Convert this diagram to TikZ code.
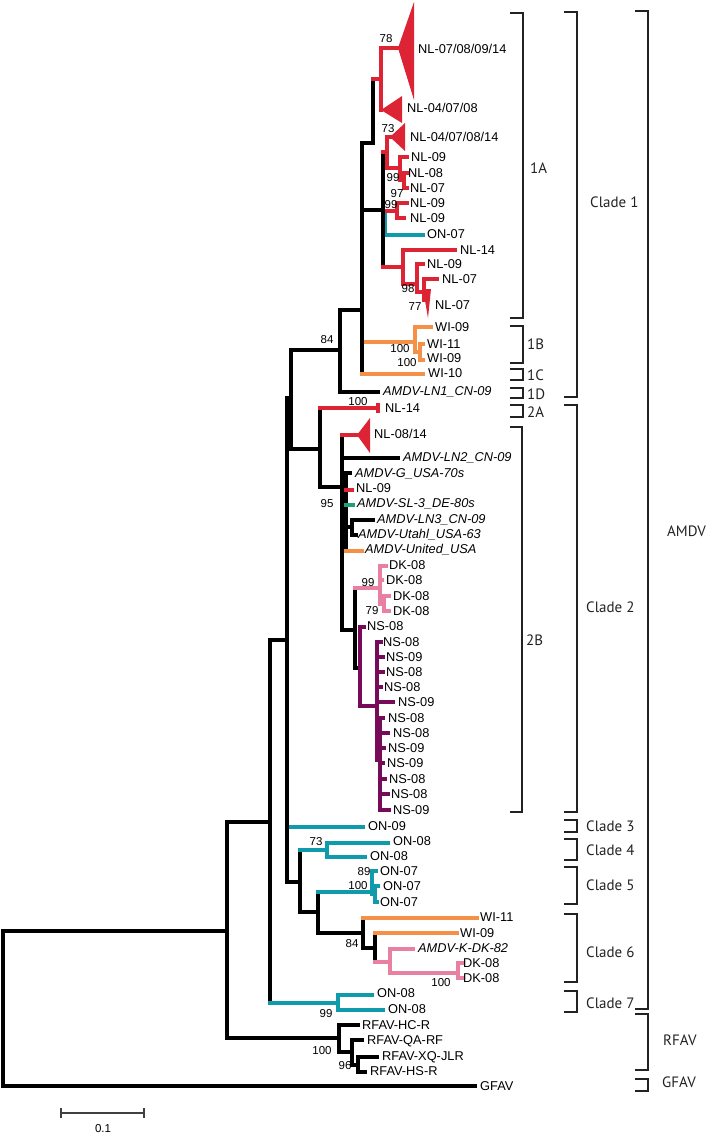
\documentclass[tikz,border=0pt]{standalone}
\usepackage{fontspec}
\setmainfont{Liberation Sans}
\newfontfamily\brkfont{PT Sans}
\definecolor{cred}{RGB}{220,36,52}
\definecolor{cteal}{RGB}{16,155,172}
\definecolor{corg}{RGB}{245,145,70}
\definecolor{cpink}{RGB}{232,128,162}
\definecolor{cpur}{RGB}{120,10,90}
\definecolor{cgrn}{RGB}{30,160,120}
\definecolor{cbrk}{RGB}{34,34,34}
\newcommand{\tbr}[4]{\draw[brl,#1] (#3) -- (#3|-#4); \draw[brl,#2] (#3|-#4) -- (#4);}
\begin{document}
\begin{tikzpicture}[x=1pt,y=-1pt,
  brl/.style={line width=3.2pt,line cap=rect},
  lab/.style={anchor=west,inner sep=0pt,font=\fontsize{12.8}{14}\selectfont,text height=9.2pt,text depth=0pt},
  labi/.style={lab,font=\fontsize{12.8}{14}\selectfont\itshape},
  supv/.style={anchor=center,inner sep=0pt,font=\fontsize{11.5}{12}\selectfont,text height=8.2pt,text depth=0pt},
  bkt/.style={line width=1.3pt,cbrk},
  bklab/.style={anchor=west,inner sep=0pt,font=\brkfont\fontsize{15}{17}\selectfont,text height=10.6pt,text depth=0pt,cbrk}]
\useasboundingbox (0,0) rectangle (713,1133);
% ---------- coordinates ----------
\coordinate (root) at (3,1008);
\coordinate (n227) at (227,931);
\coordinate (tGFAV) at (475,1086);
\coordinate (n270) at (270,822);
\coordinate (nRF) at (339,1038);
\coordinate (tHC) at (358,1025);
\coordinate (nRF2) at (352,1052);
\coordinate (tQA) at (362,1040);
\coordinate (nRF3) at (358,1065);
\coordinate (tXQ) at (377,1057);
\coordinate (tHS) at (365,1072);
\coordinate (n287) at (287,640);
\coordinate (nC7) at (338,1003);
\coordinate (tC7a) at (372,995);
\coordinate (tC7b) at (383,1010);
\coordinate (n291) at (291,398);
\coordinate (tON09) at (363,827);
\coordinate (n300) at (300,882);
\coordinate (nC4) at (327,850);
\coordinate (tC4a) at (388,843);
\coordinate (tC4b) at (365,857);
\coordinate (n318) at (318,912);
\coordinate (nC5) at (372,892);
\coordinate (tC5a) at (376,871);
\coordinate (nC5b) at (375,894);
\coordinate (tC5b) at (378,886);
\coordinate (tC5c) at (377,902);
\coordinate (nC6) at (363,933);
\coordinate (tWIb) at (477,918);
\coordinate (nC6b) at (375,948);
\coordinate (tWIc) at (457,933);
\coordinate (nPk) at (390,962);
\coordinate (tKDK) at (413,949);
\coordinate (nDKb) at (458,973);
\coordinate (tDKb1) at (462,963);
\coordinate (tDKb2) at (462,978);
\coordinate (nC1) at (340,350);
\coordinate (nB2) at (362,310);
\coordinate (tLN1) at (378,392);
\coordinate (nC2) at (320,449);
\coordinate (t2A) at (378,408);
\coordinate (nB342) at (342,487);
\coordinate (aT4) at (357,435);
\coordinate (tLN2) at (398,458);
\coordinate (nG) at (346,511);
\coordinate (tGUSA) at (350,473);
\coordinate (tNLg) at (352,490);
\coordinate (tSL3) at (353,505);
\coordinate (nLN3) at (352,527);
\coordinate (tLN3) at (373,520);
\coordinate (tUtah) at (356,535);
\coordinate (tUnited) at (362,551);
\coordinate (nDKNS) at (355,630);
\coordinate (nDK) at (380,588);
\coordinate (tDK1) at (386,566);
\coordinate (tDK2) at (382,580);
\coordinate (nDK3) at (384,604);
\coordinate (tDK3) at (389,596);
\coordinate (tDK4) at (389,611);
\coordinate (nNS) at (360,668);
\coordinate (tNS1) at (364,627);
\coordinate (nNSa) at (377,706);
\coordinate (tNS2) at (381,642);
\coordinate (tNS3) at (383,657);
\coordinate (tNS4) at (383,672);
\coordinate (tNS5) at (381,687);
\coordinate (tNS6) at (393,702);
\coordinate (nNSb) at (380,760);
\coordinate (tNS7) at (383,718);
\coordinate (tNS8) at (388,733);
\coordinate (tNS9) at (384,748);
\coordinate (tNS10) at (383,763);
\coordinate (tNS11) at (385,779);
\coordinate (tNS12) at (388,794);
\coordinate (tNS13) at (389,810);
\coordinate (nB1) at (373,143);
\coordinate (nR1) at (381,79);
\coordinate (aT1) at (398,48);
\coordinate (aT2) at (381,110);
\coordinate (nB383) at (383,210);
\coordinate (nR2) at (387,152);
\coordinate (aT3) at (390,137);
\coordinate (nR2b) at (400,168);
\coordinate (tNLa) at (407,157);
\coordinate (nR2c) at (404,180);
\coordinate (tNLb) at (407,173);
\coordinate (tNLc) at (407,188);
\coordinate (nTe) at (385,223);
\coordinate (nRp) at (397,211);
\coordinate (tNLd) at (407,203);
\coordinate (tNLe) at (404,218);
\coordinate (tON07) at (423,235);
\coordinate (nR4) at (403,267);
\coordinate (tNL14) at (455,250);
\coordinate (nR5) at (417,284);
\coordinate (tNLh) at (423,264);
\coordinate (nR6) at (424,292);
\coordinate (tNL07a) at (437,279);
\coordinate (aT5) at (424,300);
\coordinate (n1B) at (415,342);
\coordinate (tWIa) at (431,327);
\coordinate (n1Bb) at (420,352);
\coordinate (tWId) at (423,344);
\coordinate (tWIe) at (423,360);
\coordinate (tWI10) at (423,374);
% ---------- branches ----------
\tbr{black}{black}{root}{n227}
\tbr{black}{black}{root}{tGFAV}
\tbr{black}{black}{n227}{n270}
\tbr{black}{black}{n227}{nRF}
\tbr{black}{black}{nRF}{tHC}
\tbr{black}{black}{nRF}{nRF2}
\tbr{black}{black}{nRF2}{tQA}
\tbr{black}{black}{nRF2}{nRF3}
\tbr{black}{black}{nRF3}{tXQ}
\tbr{black}{black}{nRF3}{tHS}
\tbr{black}{black}{n270}{n287}
\tbr{black}{cteal}{n270}{nC7}
\tbr{cteal}{cteal}{nC7}{tC7a}
\tbr{cteal}{cteal}{nC7}{tC7b}
\tbr{black}{black}{n287}{n291}
\tbr{black}{cteal}{n287}{tON09}
\tbr{black}{black}{n287}{n300}
\tbr{black}{cteal}{n300}{nC4}
\tbr{cteal}{cteal}{nC4}{tC4a}
\tbr{cteal}{cteal}{nC4}{tC4b}
\tbr{black}{black}{n300}{n318}
\tbr{black}{cteal}{n318}{nC5}
\tbr{cteal}{cteal}{nC5}{tC5a}
\tbr{cteal}{cteal}{nC5}{nC5b}
\tbr{cteal}{cteal}{nC5b}{tC5b}
\tbr{cteal}{cteal}{nC5b}{tC5c}
\tbr{black}{black}{n318}{nC6}
\tbr{black}{corg}{nC6}{tWIb}
\tbr{black}{black}{nC6}{nC6b}
\tbr{black}{corg}{nC6b}{tWIc}
\tbr{black}{cpink}{nC6b}{nPk}
\tbr{cpink}{cpink}{nPk}{tKDK}
\tbr{cpink}{cpink}{nPk}{nDKb}
\tbr{cpink}{cpink}{nDKb}{tDKb1}
\tbr{cpink}{cpink}{nDKb}{tDKb2}
\tbr{black}{black}{n291}{nC1}
\tbr{black}{black}{n291}{nC2}
\tbr{black}{black}{nC1}{nB2}
\tbr{black}{black}{nC1}{tLN1}
\tbr{black}{cred}{nC2}{t2A}
\draw[brl,cred] (378,405) -- (378,411);
\tbr{black}{black}{nC2}{nB342}
\tbr{black}{cred}{nB342}{aT4}
\tbr{black}{black}{nB342}{tLN2}
\tbr{black}{black}{nB342}{nG}
\tbr{black}{black}{nB342}{nDKNS}
\tbr{black}{black}{nG}{tGUSA}
\tbr{black}{cred}{nG}{tNLg}
\tbr{black}{cgrn}{nG}{tSL3}
\tbr{black}{black}{nG}{nLN3}
\tbr{black}{black}{nLN3}{tLN3}
\tbr{black}{black}{nLN3}{tUtah}
\tbr{black}{corg}{nG}{tUnited}
\tbr{black}{cpink}{nDKNS}{nDK}
\tbr{cpink}{cpink}{nDK}{tDK1}
\tbr{cpink}{cpink}{nDK}{tDK2}
\tbr{cpink}{cpink}{nDK}{nDK3}
\tbr{cpink}{cpink}{nDK3}{tDK3}
\tbr{cpink}{cpink}{nDK3}{tDK4}
\tbr{black}{black}{nDKNS}{nNS}
\tbr{cpur}{cpur}{nNS}{tNS1}
\tbr{cpur}{cpur}{nNS}{nNSa}
\foreach \t in {2,...,6}{\tbr{cpur}{cpur}{nNSa}{tNS\t}}
\tbr{cpur}{cpur}{nNSa}{nNSb}
\foreach \t in {7,...,13}{\tbr{cpur}{cpur}{nNSb}{tNS\t}}
\tbr{black}{black}{nB2}{nB1}
\tbr{black}{black}{nB2}{nB383}
\tbr{black}{corg}{nB2}{n1B}
\tbr{black}{corg}{nB2}{tWI10}
\tbr{black}{cred}{nB1}{nR1}
\tbr{cred}{cred}{nR1}{aT1}
\tbr{cred}{cred}{nR1}{aT2}
\tbr{black}{cred}{nB383}{nR2}
\tbr{cred}{cred}{nR2}{aT3}
\tbr{cred}{cred}{nR2}{nR2b}
\tbr{cred}{cred}{nR2b}{tNLa}
\tbr{cred}{cred}{nR2b}{nR2c}
\tbr{cred}{cred}{nR2c}{tNLb}
\tbr{cred}{cred}{nR2c}{tNLc}
\tbr{black}{black}{nB383}{nTe}
\tbr{cteal}{cred}{nTe}{nRp}
\tbr{cred}{cred}{nRp}{tNLd}
\tbr{cred}{cred}{nRp}{tNLe}
\tbr{cteal}{cteal}{nTe}{tON07}
\tbr{black}{cred}{nB383}{nR4}
\tbr{cred}{cred}{nR4}{tNL14}
\tbr{cred}{cred}{nR4}{nR5}
\tbr{cred}{cred}{nR5}{tNLh}
\tbr{cred}{cred}{nR5}{nR6}
\tbr{cred}{cred}{nR6}{tNL07a}
\tbr{cred}{cred}{nR6}{aT5}
\tbr{corg}{corg}{n1B}{tWIa}
\tbr{corg}{corg}{n1B}{n1Bb}
\tbr{corg}{corg}{n1Bb}{tWId}
\tbr{corg}{corg}{n1Bb}{tWIe}
% ---------- collapsed clades ----------
\fill[cred] (aT1) -- (414,2) -- (414,100) -- cycle;
\fill[cred] (aT2) -- (402,96) -- (402,123) -- cycle;
\fill[cred] (aT3) -- (405,123) -- (405,151) -- cycle;
\fill[cred] (aT4) -- (370,418) -- (370,453) -- cycle;
\fill[cred] (423,289) -- (431,289) -- (428,318) -- cycle;
% ---------- leaf labels ----------
\node[lab] (L1) at (418,49) {NL-07/08/09/14};
\node[lab] (L2) at (407,108) {NL-04/07/08};
\node[lab] (L3) at (410,137) {NL-04/07/08/14};
\node[lab] (L4) at (411,157) {NL-09};
\node[lab] (L5) at (408,173) {NL-08};
\node[lab] (L6) at (410,188) {NL-07};
\node[lab] (L7) at (410,203) {NL-09};
\node[lab] (L8) at (410,218) {NL-09};
\node[lab] (L9) at (427,234) {ON-07};
\node[lab] (L10) at (460,250) {NL-14};
\node[lab] (L11) at (427,264) {NL-09};
\node[lab] (L12) at (442,279) {NL-07};
\node[lab] (L13) at (435,305) {NL-07};
\node[lab] (L14) at (435,327) {WI-09};
\node[lab] (L15) at (427,344) {WI-11};
\node[lab] (L16) at (427,358) {WI-09};
\node[lab] (L17) at (428,373) {WI-10};
\node[labi] (L18) at (383,391) {AMDV-LN1\_CN-09};
\node[lab] (L19) at (385,408) {NL-14};
\node[lab] (L20) at (374,434) {NL-08/14};
\node[labi] (L21) at (403,457) {AMDV-LN2\_CN-09};
\node[labi] (L22) at (355,473) {AMDV-G\_USA-70s};
\node[lab] (L23) at (356,488) {NL-09};
\node[labi] (L24) at (357,503) {AMDV-SL-3\_DE-80s};
\node[labi] (L25) at (377,519) {AMDV-LN3\_CN-09};
\node[labi] (L26) at (358,534) {AMDV-Utahl\_USA-63};
\node[labi] (L27) at (365,549) {AMDV-United\_USA};
\node[lab] (L28) at (389,565) {DK-08};
\node[lab] (L29) at (386,580) {DK-08};
\node[lab] (L30) at (393,596) {DK-08};
\node[lab] (L31) at (393,611) {DK-08};
\node[lab] (L32) at (367,626) {NS-08};
\node[lab] (L33) at (383,642) {NS-08};
\node[lab] (L34) at (386,657) {NS-09};
\node[lab] (L35) at (386,672) {NS-08};
\node[lab] (L36) at (384,687) {NS-08};
\node[lab] (L37) at (398,702) {NS-09};
\node[lab] (L38) at (388,718) {NS-08};
\node[lab] (L39) at (393,733) {NS-08};
\node[lab] (L40) at (388,748) {NS-09};
\node[lab] (L41) at (387,763) {NS-09};
\node[lab] (L42) at (389,779) {NS-08};
\node[lab] (L43) at (391,794) {NS-08};
\node[lab] (L44) at (393,810) {NS-09};
\node[lab] (L45) at (368,826) {ON-09};
\node[lab] (L46) at (393,841) {ON-08};
\node[lab] (L47) at (370,856) {ON-08};
\node[lab] (L48) at (380,871) {ON-07};
\node[lab] (L49) at (383,886) {ON-07};
\node[lab] (L50) at (380,902) {ON-07};
\node[lab] (L51) at (480,917) {WI-11};
\node[lab] (L52) at (460,933) {WI-09};
\node[labi] (L53) at (418,948) {AMDV-K-DK-82};
\node[lab] (L54) at (463,963) {DK-08};
\node[lab] (L55) at (463,978) {DK-08};
\node[lab] (L56) at (377,993) {ON-08};
\node[lab] (L57) at (388,1009) {ON-08};
\node[lab] (L58) at (362,1025) {RFAV-HC-R};
\node[lab] (L59) at (367,1040) {RFAV-QA-RF};
\node[lab] (L60) at (382,1056) {RFAV-XQ-JLR};
\node[lab] (L61) at (370,1071) {RFAV-HS-R};
\node[lab] (L62) at (480,1086) {GFAV};
% ---------- support values ----------
\node[supv] (s1) at (386,38) {78};
\node[supv] (s2) at (388,128) {73};
\node[supv] (s3) at (393,177) {99};
\node[supv] (s4) at (397,193) {97};
\node[supv] (s5) at (391,204) {99};
\node[supv] (s6) at (408,288) {98};
\node[supv] (s7) at (415,306) {77};
\node[supv] (s8) at (327,339) {84};
\node[supv] (s9) at (400,348) {100};
\node[supv] (s10) at (407,362) {100};
\node[supv] (s11) at (358,401) {100};
\node[supv] (s12) at (327,503) {95};
\node[supv] (s13) at (368,582) {99};
\node[supv] (s14) at (372,610) {79};
\node[supv] (s15) at (316,841) {73};
\node[supv] (s16) at (364,871) {89};
\node[supv] (s17) at (358,885) {100};
\node[supv] (s18) at (352,943) {84};
\node[supv] (s19) at (441,982) {100};
\node[supv] (s20) at (326,1013) {99};
\node[supv] (s21) at (322,1050) {100};
\node[supv] (s22) at (345,1065) {96};
% ---------- brackets ----------
\foreach \ya/\yb in {13/318,326/363,369/380,388/398,405/417}
  {\draw[bkt] (510,\ya) -- (523,\ya) -- (523,\yb) -- (510,\yb);}
\draw[bkt] (510,427) -- (522,427) -- (522,812) -- (510,812);
\foreach \ya/\yb in {12/397,405/812,820/832,839/860,867/904,914/982,991/1012}
  {\draw[bkt] (564,\ya) -- (577,\ya) -- (577,\yb) -- (564,\yb);}
\foreach \ya/\yb in {11/1009,1014/1070,1079/1091}
  {\draw[bkt] (635,\ya) -- (648,\ya) -- (648,\yb) -- (635,\yb);}
\node[bklab] (B1A) at (530,168) {1A};
\node[bklab] (B1B) at (527,344) {1B};
\node[bklab] (B1C) at (527,375) {1C};
\node[bklab] (B1D) at (527,394) {1D};
\node[bklab] (B2A) at (527,412) {2A};
\node[bklab] (B2B) at (526,640) {2B};
\node[bklab] (BC1) at (590,202) {Clade 1};
\node[bklab] (BC2) at (586,607) {Clade 2};
\node[bklab] (BC3) at (586,826) {Clade 3};
\node[bklab] (BC4) at (586,850) {Clade 4};
\node[bklab] (BC5) at (586,885) {Clade 5};
\node[bklab] (BC6) at (586,952) {Clade 6};
\node[bklab] (BC7) at (586,1003) {Clade 7};
\node[bklab] (BAM) at (667,531) {AMDV};
\node[bklab] (BRF) at (663,1040) {RFAV};
\node[bklab] (BGF) at (662,1082) {GFAV};
% ---------- scale bar ----------
\coordinate (sbL) at (61,1113);
\coordinate (sbR) at (144,1113);
\draw[line width=1.5pt,black!75] (sbL) -- (sbR);
\draw[line width=1.5pt,black!75] ([yshift=5pt]sbL) -- ([yshift=-5pt]sbL);
\draw[line width=1.5pt,black!75] ([yshift=5pt]sbR) -- ([yshift=-5pt]sbR);
\node[supv] (sbT) at (103,1128) {0.1};
\end{tikzpicture}
\end{document}
